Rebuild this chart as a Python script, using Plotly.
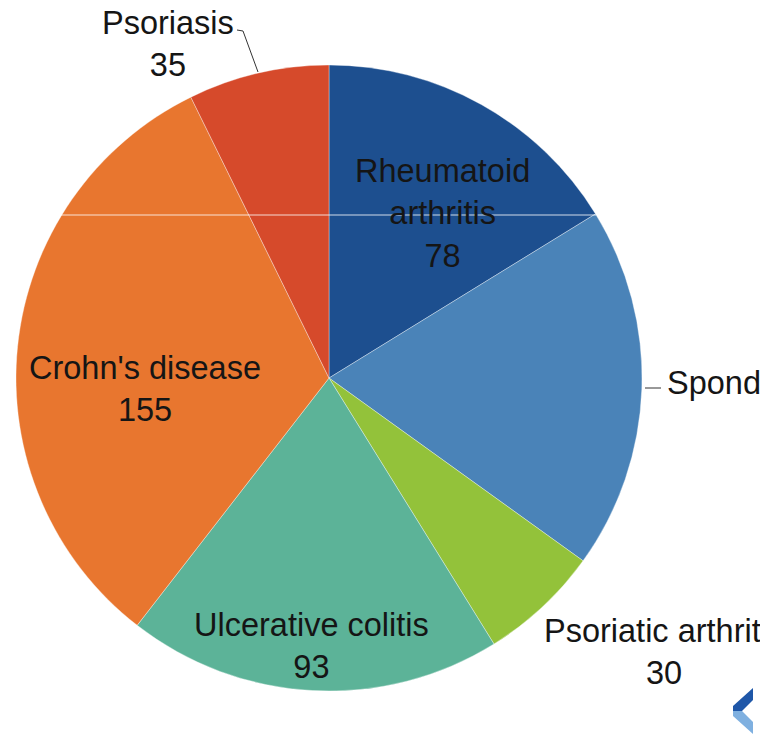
import plotly.graph_objects as go

labels = ["Rheumatoid arthritis", "Spondyloarthritis", "Psoriatic arthritis",
          "Ulcerative colitis", "Crohn's disease", "Psoriasis"]
values = [78, 90, 30, 93, 155, 35]
colors = ["#1d4f8f", "#4a83b8", "#93c23a", "#5cb398", "#e8762f", "#d64a2b"]
# label display text (line breaks) for each slice
label_text = ["Rheumatoid<br>arthritis", "Spondyloarthritis", "Psoriatic arthritis",
              "Ulcerative colitis", "Crohn's disease", "Psoriasis"]

W, H = 760, 740

def px(x):
    return x / W

def py(y):
    return 1 - y / H

fig = go.Figure()
fig.add_trace(go.Pie(
    labels=labels,
    values=values,
    sort=False,
    direction="clockwise",
    rotation=0,
    textinfo="none",
    marker=dict(colors=colors, line=dict(color="rgba(255,255,255,0.35)", width=1)),
    domain=dict(x=[px(16), px(642)], y=[py(691), py(65)]),
    showlegend=False,
))

# label positions (pixel centers) and anchoring
label_pos = [
    (442, 213, "center", "middle"),
    (665, 404, "left", "middle"),
    (542, 652, "left", "middle"),
    (311, 646, "center", "middle"),
    (145, 389, "center", "middle"),
    (168, 44, "center", "middle"),
]
font = dict(family="Liberation Sans, Arial, sans-serif", size=32.5, color="#151515")
for txt, v, (x, y, xa, ya) in zip(label_text, values, label_pos):
    fig.add_annotation(
        x=px(x), y=py(y), xref="paper", yref="paper",
        text=f"{txt}<br>{v}", showarrow=False,
        xanchor=xa, yanchor=ya, align="center", font=font,
    )

shapes = [
    # leader lines
    dict(type="path", path=f"M {px(237)} {py(30)} L {px(243)} {py(31)} L {px(258)} {py(72)}",
         xref="paper", yref="paper", line=dict(color="#333333", width=1)),
    dict(type="line", x0=px(645), y0=py(388), x1=px(661), y1=py(388),
         xref="paper", yref="paper", line=dict(color="#333333", width=1)),
    # light horizontal artifact line
    dict(type="line", x0=px(60), y0=py(215), x1=px(596), y1=py(215),
         xref="paper", yref="paper", line=dict(color="rgba(255,255,255,0.8)", width=1)),
    # logo
    dict(type="path",
         path=f"M {px(753)} {py(688)} L {px(753)} {py(700)} L {px(742)} {py(711)} L {px(733)} {py(711)} L {px(733)} {py(706)} Z",
         xref="paper", yref="paper", fillcolor="#1f57a8", line=dict(width=0)),
    dict(type="path",
         path=f"M {px(733)} {py(711)} L {px(742)} {py(711)} L {px(753)} {py(722)} L {px(753)} {py(734)} L {px(733)} {py(716)} Z",
         xref="paper", yref="paper", fillcolor="#7fb0e0", line=dict(width=0)),
]

fig.update_layout(
    width=W, height=H,
    margin=dict(l=0, r=0, t=0, b=0),
    paper_bgcolor="white", plot_bgcolor="white",
    shapes=shapes,
)

fig.write_html(
    "out.html",
    config={"displayModeBar": False},
    post_script="document.body.style.margin='0';document.body.style.overflow='hidden';",
)
